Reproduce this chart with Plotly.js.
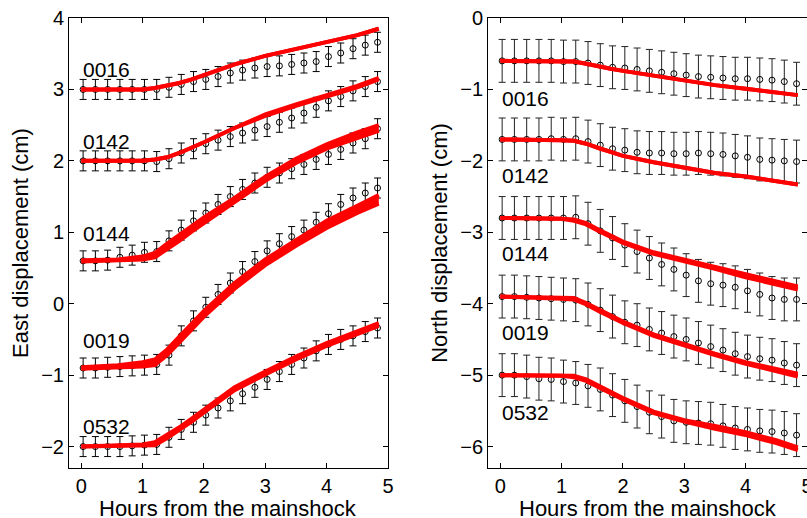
<!DOCTYPE html>
<html>
<head>
<meta charset="utf-8">
<script src="https://cdn.plot.ly/plotly-3.0.1.min.js"></script>
<style>html,body{margin:0;padding:0;background:#fff;overflow:hidden}#chart{width:807px;height:518px}</style>
</head>
<body>
<div id="chart"></div>
<script>
// ---- data ----
const stations = ["0016", "0142", "0144", "0019", "0532"];
const hours = [0.03,0.23,0.43,0.63,0.83,1.03,1.23,1.43,1.63,1.83,2.03,2.23,2.43,2.63,2.83,3.03,3.23,3.43,3.63,3.83,4.03,4.23,4.43,4.63,4.83];
const modelHours = [0,0.6,1.0,1.2,1.4,1.6,1.8,2.0,2.5,3.0,3.5,4.0,4.5,4.85];

// East observations (cm)
const east0016 = [3.0,3.0,3.0,3.0,3.0,3.0,3.0,3.03,3.07,3.11,3.14,3.18,3.23,3.27,3.30,3.32,3.33,3.35,3.37,3.39,3.46,3.51,3.57,3.62,3.66];
const east0142 = [2.0,2.0,2.0,2.0,2.0,2.0,1.99,2.03,2.11,2.17,2.24,2.29,2.34,2.39,2.43,2.48,2.54,2.60,2.67,2.75,2.84,2.90,2.98,3.04,3.11];
const east0144 = [0.6,0.6,0.61,0.65,0.68,0.72,0.73,0.88,1.03,1.16,1.27,1.39,1.50,1.60,1.69,1.77,1.83,1.89,1.95,2.02,2.09,2.16,2.25,2.31,2.45];
const east0019 = [-0.9,-0.9,-0.89,-0.88,-0.87,-0.86,-0.85,-0.72,-0.45,-0.24,-0.05,0.13,0.29,0.45,0.59,0.74,0.84,0.94,1.03,1.14,1.26,1.39,1.48,1.55,1.62];
const east0532 = [-2.0,-2.0,-2.0,-2.0,-1.99,-1.98,-1.97,-1.87,-1.76,-1.66,-1.56,-1.46,-1.36,-1.26,-1.17,-1.06,-0.95,-0.85,-0.76,-0.66,-0.57,-0.50,-0.45,-0.39,-0.34];
// North observations (cm)
const north0016 = [-0.6,-0.6,-0.6,-0.6,-0.6,-0.61,-0.61,-0.63,-0.66,-0.69,-0.70,-0.72,-0.74,-0.76,-0.78,-0.80,-0.82,-0.83,-0.84,-0.85,-0.85,-0.86,-0.87,-0.89,-0.92];
const north0142 = [-1.7,-1.7,-1.7,-1.7,-1.69,-1.7,-1.69,-1.73,-1.78,-1.83,-1.85,-1.88,-1.89,-1.89,-1.90,-1.90,-1.89,-1.90,-1.91,-1.93,-1.95,-1.98,-1.99,-2.0,-2.01];
const north0144 = [-2.8,-2.8,-2.8,-2.8,-2.8,-2.8,-2.79,-2.88,-2.98,-3.08,-3.18,-3.27,-3.36,-3.45,-3.52,-3.60,-3.68,-3.72,-3.74,-3.77,-3.82,-3.87,-3.92,-3.94,-3.94];
const north0019 = [-3.9,-3.9,-3.91,-3.92,-3.93,-3.94,-3.95,-4.01,-4.09,-4.18,-4.26,-4.30,-4.36,-4.41,-4.46,-4.50,-4.55,-4.60,-4.65,-4.70,-4.74,-4.77,-4.79,-4.83,-4.86];
const north0532 = [-5.0,-5.0,-5.02,-5.05,-5.06,-5.09,-5.11,-5.15,-5.20,-5.28,-5.36,-5.44,-5.52,-5.58,-5.64,-5.66,-5.67,-5.68,-5.71,-5.74,-5.76,-5.78,-5.79,-5.81,-5.84];
const eastError = 0.14;
const northError = 0.3;

// Model curves (centre) and half spread of the model ensemble
const eastModel0016 = [3.0,3.0,3.0,3.02,3.05,3.09,3.14,3.20,3.35,3.47,3.57,3.66,3.76,3.85];
const eastModel0142 = [2.0,2.0,2.0,2.02,2.05,2.11,2.18,2.26,2.46,2.64,2.78,2.91,3.04,3.15];
const eastModel0144 = [0.6,0.61,0.64,0.68,0.80,0.92,1.05,1.17,1.45,1.75,2.00,2.20,2.36,2.46];
const eastModel0019 = [-0.9,-0.88,-0.85,-0.82,-0.68,-0.50,-0.32,-0.14,0.25,0.58,0.85,1.11,1.32,1.46];
const eastModel0532 = [-2.0,-1.99,-1.98,-1.96,-1.86,-1.75,-1.63,-1.50,-1.19,-0.97,-0.76,-0.57,-0.41,-0.29];
const eastSpread0016 = [0,0,0,0,0,0,0,0,0,0,0,0,0,0];
const eastSpread0142 = [0,0,0,0,0,0,0,0,0,0.01,0.01,0.01,0.01,0.01];
const eastSpread0144 = [0.01,0.01,0.02,0.03,0.04,0.04,0.04,0.04,0.03,0.03,0.03,0.03,0.04,0.04];
const eastSpread0019 = [0.01,0.02,0.03,0.04,0.04,0.04,0.04,0.04,0.04,0.04,0.04,0.05,0.05,0.06];
const eastSpread0532 = [0,0,0.01,0.02,0.02,0.02,0.02,0.02,0.02,0.02,0.02,0.02,0.02,0.02];
const northModel0016 = [-0.6,-0.6,-0.6,-0.61,-0.64,-0.68,-0.71,-0.74,-0.81,-0.88,-0.94,-0.99,-1.05,-1.08];
const northModel0142 = [-1.7,-1.7,-1.71,-1.72,-1.76,-1.82,-1.88,-1.93,-2.02,-2.10,-2.17,-2.22,-2.28,-2.33];
const northModel0144 = [-2.8,-2.8,-2.81,-2.83,-2.88,-2.97,-3.06,-3.14,-3.29,-3.39,-3.50,-3.61,-3.71,-3.78];
const northModel0019 = [-3.9,-3.91,-3.92,-3.93,-4.0,-4.09,-4.18,-4.26,-4.44,-4.58,-4.71,-4.83,-4.93,-5.0];
const northModel0532 = [-5.0,-5.0,-5.01,-5.02,-5.07,-5.16,-5.25,-5.33,-5.52,-5.64,-5.73,-5.82,-5.93,-6.03];
const northSpread0016 = [0,0,0,0,0,0,0,0,0,0,0,0,0,0];
const northSpread0142 = [0,0,0,0,0,0,0,0,0,0,0,0,0,0];
const northSpread0144 = [0,0,0,0.01,0.01,0.01,0.01,0.01,0.01,0.01,0.01,0.02,0.02,0.02];
const northSpread0019 = [0,0,0.01,0.01,0.01,0.01,0.01,0.01,0.01,0.01,0.01,0.01,0.01,0.02];
const northSpread0532 = [0,0,0,0.01,0.01,0.01,0.01,0.01,0.01,0.01,0.02,0.02,0.02,0.02];

// label positions (data units)
const eastLabelY = [3.28, 2.27, 0.99, -0.52, -1.72];
const northLabelY = [-1.12, -2.2, -3.3, -4.4, -5.52];
const xTitle = 'Hours from the mainshock';

const eastObs = [east0016, east0142, east0144, east0019, east0532];
const northObs = [north0016, north0142, north0144, north0019, north0532];
const eastModels = [eastModel0016, eastModel0142, eastModel0144, eastModel0019, eastModel0532];
const northModels = [northModel0016, northModel0142, northModel0144, northModel0019, northModel0532];
const eastSpreads = [eastSpread0016, eastSpread0142, eastSpread0144, eastSpread0019, eastSpread0532];
const northSpreads = [northSpread0016, northSpread0142, northSpread0144, northSpread0019, northSpread0532];

// ---- traces ----
const RED = '#ff0000';
const FONT = '"Liberation Sans", Arial, Helvetica, sans-serif';
const traces = [];
function addPanel(obs, models, spreads, err, xa, ya, errColor) {
  obs.forEach(function (vals) {
    traces.push({
      type: 'scatter', mode: 'markers', x: hours, y: vals, xaxis: xa, yaxis: ya,
      marker: {symbol: 'circle-open', size: 6, color: '#000', line: {width: 1, color: '#000'}},
      error_y: {type: 'constant', value: err, thickness: 1, width: 3.5, color: errColor},
      hoverinfo: 'skip'
    });
  });
  models.forEach(function (vals, i) {
    const sp = spreads[i];
    traces.push({
      type: 'scatter', mode: 'lines', x: modelHours, y: vals.map(function (v, k) { return v - sp[k]; }),
      xaxis: xa, yaxis: ya, line: {color: RED, width: 4}, hoverinfo: 'skip'
    });
    traces.push({
      type: 'scatter', mode: 'lines', x: modelHours, y: vals.map(function (v, k) { return v + sp[k]; }),
      xaxis: xa, yaxis: ya, line: {color: RED, width: 4},
      fill: 'tonexty', fillcolor: RED, hoverinfo: 'skip'
    });
  });
}
addPanel(eastObs, eastModels, eastSpreads, eastError, 'x', 'y', '#000');
addPanel(northObs, northModels, northSpreads, northError, 'x2', 'y2', '#222');

const TITLEFONT = {family: FONT, size: 22, color: '#000'};
const annotations = [];
stations.forEach(function (s, i) {
  annotations.push({xref: 'x', yref: 'y', x: -0.01, y: eastLabelY[i], text: s, showarrow: false,
    xanchor: 'left', yanchor: 'middle', font: {family: FONT, size: 21, color: '#000'}});
  annotations.push({xref: 'x2', yref: 'y2', x: -0.01, y: northLabelY[i], text: s, showarrow: false,
    xanchor: 'left', yanchor: 'middle', font: {family: FONT, size: 21, color: '#000'}});
});
// x-axis titles placed just below the tick labels
annotations.push({xref: 'x domain', yref: 'paper', x: 0.5, y: -0.091, text: xTitle, showarrow: false,
  xanchor: 'center', yanchor: 'middle', font: TITLEFONT});
annotations.push({xref: 'x2 domain', yref: 'paper', x: 0.5, y: -0.091, text: xTitle, showarrow: false,
  xanchor: 'center', yanchor: 'middle', font: TITLEFONT});

const xTicks = [0, 1, 2, 3, 4, 5];
const eastTicks = [-2, -1, 0, 1, 2, 3, 4];
const northTicks = [-6, -5, -4, -3, -2, -1, 0];

function axisBase() {
  return {
    showline: true, linecolor: '#000', linewidth: 1, mirror: 'ticks',
    ticks: 'inside', ticklen: 5, tickwidth: 1, tickcolor: '#000',
    showgrid: false, zeroline: false, ticklabeloverflow: 'allow',
    tickfont: {family: FONT, size: 20, color: '#000'}
  };
}
const layout = {
  width: 807, height: 518,
  margin: {l: 69, r: 0, t: 18, b: 50},
  paper_bgcolor: '#fff', plot_bgcolor: '#fff',
  showlegend: false,
  font: {family: FONT, color: '#000'},
  xaxis: Object.assign(axisBase(), {domain: [0, 0.4322], range: [-0.2, 5], tickvals: xTicks, anchor: 'y'}),
  yaxis: Object.assign(axisBase(), {domain: [0, 1], range: [-2.3, 4], tickvals: eastTicks, anchor: 'x',
    title: {text: 'East displacement (cm)', font: TITLEFONT, standoff: 6}}),
  xaxis2: Object.assign(axisBase(), {domain: [0.5678, 1], range: [-0.2, 5], tickvals: xTicks, anchor: 'y2'}),
  yaxis2: Object.assign(axisBase(), {domain: [0, 1], range: [-6.3, 0], tickvals: northTicks, anchor: 'x2',
    title: {text: 'North displacement (cm)', font: TITLEFONT, standoff: 6}}),
  annotations: annotations
};
Plotly.newPlot('chart', traces, layout, {staticPlot: true, displayModeBar: false});
</script>
</body>
</html>
